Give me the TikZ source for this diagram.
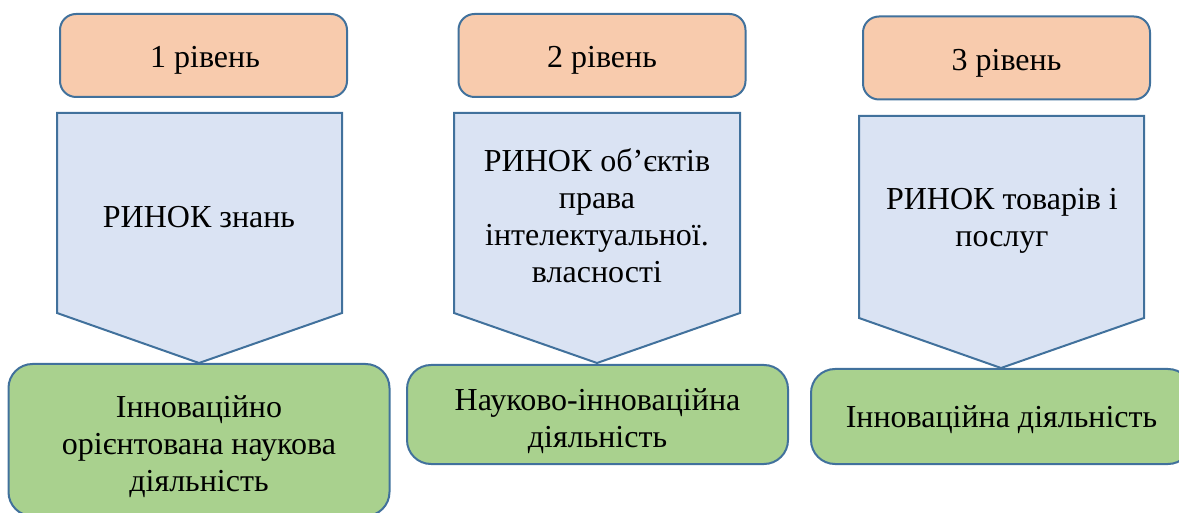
\documentclass[tikz,border=0pt]{standalone}
\usepackage{fontspec}
\setmainfont{Liberation Serif}
\definecolor{strk}{HTML}{41719C}
\definecolor{lvlfill}{HTML}{F8CBAD}
\definecolor{mktfill}{HTML}{DAE3F3}
\definecolor{actfill}{HTML}{A9D18E}
\begin{document}
\begin{tikzpicture}[x=0.5pt,y=-0.5pt,
  txt/.style={font=\fontsize{16}{18.5}\selectfont, align=center, inner sep=0pt},
  lvl/.style={draw=strk, fill=lvlfill, line width=1pt, rounded corners=8pt, minimum width=143.5pt, minimum height=41.5pt, inner sep=0pt},
  mkt/.style={draw=strk, fill=mktfill, line width=1pt, line join=miter},
  act/.style={draw=strk, fill=actfill, line width=1pt, rounded corners=12pt, minimum width=190.5pt, inner sep=0pt}]
\useasboundingbox (0,0) rectangle (1179,513);
% level boxes
\node[lvl] (l1) at (203.5,55.5) {};
\node[lvl] (l2) at (602,55.5) {};
\node[lvl] (l3) at (1006.5,58) {};
\node[txt] (lt1) at (205,60) {1 рівень};
\node[txt] (lt2) at (602,60) {2 рівень};
\node[txt] (lt3) at (1006.5,63) {3 рівень};
% market pentagons
\draw[mkt] (57,113) -- (342,113) -- (342,313) -- (199,363) -- (57,313) -- cycle;
\draw[mkt] (454,113) -- (740,113) -- (740,313) -- (597,363) -- (454,313) -- cycle;
\draw[mkt] (859,116) -- (1144,116) -- (1144,318) -- (1001,368) -- (859,318) -- cycle;
\node[txt] (m1) at (199,217) {РИНОК знань};
\node[txt] (m2) at (597,216) {РИНОК об’єктів\\права\\інтелектуальної.\\власності};
\node[txt] (m3) at (1002,221) {РИНОК товарів і\\послуг};
% activity boxes
\node[act, minimum height=76pt] (a1) at (199,440) {};
\node[act, minimum height=49.5pt] (a2) at (597.5,414.5) {};
\node[act, minimum height=47.5pt] (a3) at (1001.5,416.5) {};
\node[txt] (at1) at (199,447) {Інноваційно\\орієнтована наукова\\діяльність};
\node[txt] (at2) at (597.5,421) {Науково-інноваційна\\діяльність};
\node[txt] (at3) at (1001.5,420) {Інноваційна діяльність};
\end{tikzpicture}
\end{document}
